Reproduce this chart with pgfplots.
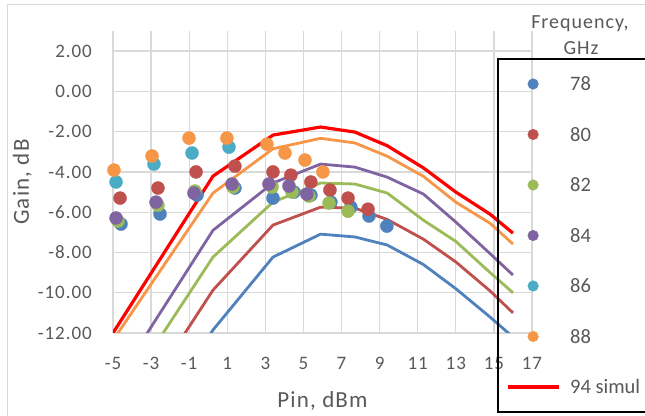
\documentclass[border=0pt]{standalone}
\usepackage{fontspec}
\setmainfont{Carlito}
\newfontfamily\lsfont[LetterSpace=5]{Carlito}
\usepackage{pgfplots}
\pgfplotsset{compat=1.18}
\definecolor{c78}{HTML}{4F81BD}
\definecolor{c80}{HTML}{C0504D}
\definecolor{c82}{HTML}{9BBB59}
\definecolor{c84}{HTML}{8064A2}
\definecolor{c86}{HTML}{4BACC6}
\definecolor{c88}{HTML}{F79646}
\definecolor{txt}{HTML}{595959}
\definecolor{grd}{HTML}{D9D9D9}
\pgfplotsset{
  scat/.style={only marks, mark=*, mark size=6.5pt, color=#1, mark options={draw=#1, fill=#1, solid},
    legend image code/.code={\path[draw=none, fill=none] (0pt,-6pt) rectangle (51pt,6pt);
      \draw[##1, mark size=5.3pt, line width=0.4pt] plot coordinates {(25.5pt,0pt)};}},
  simline/.style={color=#1, line width=2.8pt, no markers, line join=round, forget plot},
  simleg/.style={legend image code/.code={\path[draw=none, fill=none] (0pt,-6pt) rectangle (51pt,6pt);
      \draw[##1] (0pt,0pt) -- (51pt,0pt);}},
}
\newcommand{\legtxt}[1]{\makebox[69pt][l]{#1}}
\begin{document}
\begin{tikzpicture}
\useasboundingbox (0,0) rectangle (645pt,415pt);
\fill[white] (0,0) rectangle (645pt,415pt);
\draw[grd, line width=1pt] (7pt,-5pt) -- (7pt,410pt) -- (650pt,410pt);
\node[anchor=base, text=txt, font=\lsfont\fontsize{20}{24}\selectfont, inner sep=0pt] at (580pt,386pt) {Frequency,};
\node[anchor=base, text=txt, font=\lsfont\fontsize{20}{24}\selectfont, inner sep=0pt] at (581pt,360pt) {GHz};
\begin{axis}[
  at={(113pt,82pt)}, anchor=south west,
  scale only axis, width=419pt, height=302pt,
  xmin=-5, xmax=17, ymin=-12, ymax=3,
  xtick={-5,-3,...,17}, ytick={-12,-10,...,2},
  xticklabels={-5,-3,-1,1,3,5,7,9,11,13,15,17},
  yticklabels={-12.00,-10.00,-8.00,-6.00,-4.00,-2.00,0.00,2.00},
  grid=major, grid style={grd, line width=1.3pt},
  axis line style={draw=none},
  major tick length=0pt,
  tick label style={text=txt, font=\lsfont\fontsize{19}{22}\selectfont, inner sep=0pt},
  yticklabel style={anchor=east, xshift=-21pt},
  xticklabel style={anchor=north, yshift=-24pt},
  xlabel={Pin, dBm}, ylabel={Gain, dB},
  label style={text=txt, font=\lsfont\fontsize{23}{26}\selectfont, inner sep=0pt},
  xlabel style={at={(axis description cs:0.5,0)}, anchor=base, yshift=-75pt},
  ylabel style={at={(axis description cs:-0.2005,0.5)}, anchor=base},
  legend cell align=left,
  legend style={at={(axis description cs:0.9189,0.9073)}, anchor=north west,
    draw=black, line width=1.2pt, fill=none, inner xsep=8pt, inner ysep=18.35pt,
    outer sep=0pt, row sep=37.2pt, column sep=10pt,
    font=\fontsize{20.5}{24}\selectfont, text=txt,
    nodes={inner sep=0pt, text height=13.3pt, text depth=0pt, anchor=west}},
]
% simulation lines
\addplot[simline=c78] coordinates {(-5,-19.5) (0.25,-11.85) (3.4,-8.23) (5.9,-7.09) (7.7,-7.23) (9.4,-7.63) (11.3,-8.6) (13.0,-9.8) (14.8,-11.21) (16.0,-12.2)};
\addplot[simline=c80] coordinates {(-5,-17.5) (0.25,-9.87) (3.4,-6.64) (5.9,-5.75) (7.7,-5.8) (9.4,-6.36) (11.3,-7.34) (13.0,-8.47) (14.8,-9.91) (16.0,-11.0)};
\addplot[simline=c82] coordinates {(-5,-15.8) (0.25,-8.23) (3.4,-5.5) (5.9,-4.55) (7.7,-4.6) (9.4,-5.05) (11.3,-6.4) (13.0,-7.45) (14.8,-9.0) (16.0,-10.0)};
\addplot[simline=c84] coordinates {(-5,-14.66) (0.25,-6.9) (3.4,-4.55) (5.9,-3.61) (7.7,-3.76) (9.4,-4.26) (11.3,-5.1) (13.0,-6.49) (14.8,-8.06) (16.0,-9.12)};
\addplot[simline=c88] coordinates {(-5,-12.36) (0.25,-5.05) (3.4,-2.85) (5.9,-2.33) (7.7,-2.56) (9.4,-3.22) (11.3,-4.22) (13.0,-5.5) (14.8,-6.55) (16.0,-7.58)};
\addplot[simline=red, line width=3.2pt] coordinates {(-5,-12.0) (0.25,-4.21) (3.4,-2.17) (5.9,-1.77) (7.7,-2.02) (9.4,-2.7) (11.3,-3.8) (13.0,-5.0) (14.8,-6.1) (16.0,-7.04)};
% measured points
\addplot[scat=c78] coordinates {(-4.58,-6.59) (-2.53,-6.09) (-0.59,-5.15) (1.4,-4.8) (3.4,-5.3) (4.5,-5.0) (5.39,-5.15) (6.44,-5.5) (7.49,-5.75) (8.44,-6.19) (9.38,-6.69)};
\addlegendentry{\legtxt{78}}
\addplot[scat=c80] coordinates {(-4.63,-5.3) (-2.64,-4.8) (-0.64,-4.0) (1.4,-3.71) (3.4,-4.0) (4.34,-4.16) (5.39,-4.5) (6.39,-4.9) (7.34,-5.3) (8.39,-5.85)};
\addlegendentry{\legtxt{80}}
\addplot[scat=c82] coordinates {(-4.74,-6.44) (-2.64,-5.65) (-0.7,-4.95) (1.3,-4.75) (3.35,-4.75) (4.4,-5.0) (5.29,-5.2) (6.34,-5.55) (7.34,-5.95)};
\addlegendentry{\legtxt{82}}
\addplot[scat=c84] coordinates {(-4.84,-6.29) (-2.74,-5.5) (-0.75,-5.05) (1.25,-4.6) (3.19,-4.6) (4.24,-4.7) (5.18,-5.1)};
\addlegendentry{\legtxt{84}}
\addplot[scat=c86] coordinates {(-4.84,-4.5) (-2.85,-3.61) (-0.85,-3.06) (1.09,-2.77)};
\addlegendentry{\legtxt{86}}
\addplot[scat=c88] coordinates {(-4.95,-3.91) (-2.95,-3.21) (-1.01,-2.32) (0.98,-2.32) (3.08,-2.62) (4.03,-3.06) (5.08,-3.41) (6.02,-4.0)};
\addlegendentry{\legtxt{88}}
\addlegendimage{red, line width=3.2pt, simleg}
\addlegendentry{\legtxt{94 simul}}
\end{axis}
\end{tikzpicture}
\end{document}
